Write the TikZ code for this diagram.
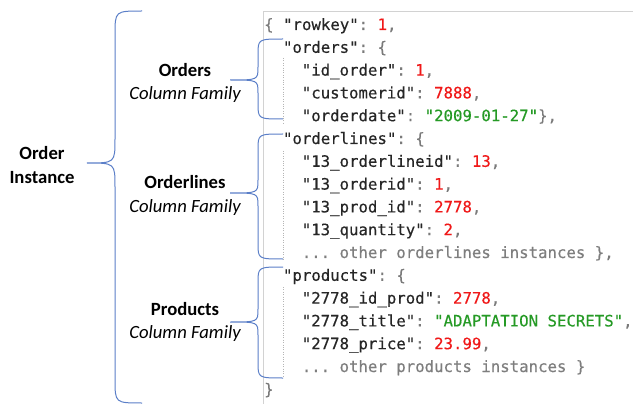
\documentclass[tikz,border=0pt]{standalone}
\usepackage{fontspec}
\newfontfamily\labfont{Carlito}
\newfontfamily\codefont[FakeBold=0.35]{DejaVu Sans Mono}
\definecolor{ckey}{HTML}{262626}
\definecolor{cpun}{HTML}{7A7A7A}
\definecolor{ccom}{HTML}{7E7E7E}
\definecolor{cnum}{HTML}{F01818}
\definecolor{cstr}{HTML}{259A25}
\definecolor{cbrace}{HTML}{5B7FC8}
\definecolor{cbox}{HTML}{D2D2D2}
\definecolor{cguide}{HTML}{B5B5B5}
\newcommand{\Kq}[1]{\textcolor{ckey}{"#1"}}
\newcommand{\Pn}[1]{\textcolor{cpun}{#1}}
\newcommand{\Nm}[1]{\textcolor{cnum}{#1}}
\newcommand{\St}[1]{\textcolor{cstr}{"#1"}}
\newcommand{\Cm}[1]{\textcolor{ccom}{#1}}
% brace: xend, xv, xtip, ytop, ytip, ybot, rend, rtip
\newcommand{\cfbrace}[8]{%
  \draw[bracestyle] (#1,#4) .. controls (#2,#4) .. (#2,{#4+#7})
    -- (#2,{#5-#8}) .. controls (#2,#5) .. (#3,#5)
    .. controls (#2,#5) .. (#2,{#5+#8})
    -- (#2,{#6-#7}) .. controls (#2,#6) .. (#1,#6);}
\begin{document}
\begin{tikzpicture}[x=1pt,y=-1pt,
  bracestyle/.style={draw=cbrace,line width=1pt},
  lbl/.style={inner sep=0pt,font=\labfont\fontsize{18.67}{23}\selectfont,text=black},
  codeline/.style={inner sep=0pt,anchor=base west,font=\codefont\fontsize{15.7}{22.8}\selectfont\frenchspacing},
  guide/.style={draw=cguide,line width=0.8pt,dash pattern=on 0.8pt off 1.6pt},
  boxline/.style={draw=cbox,line width=0.9pt}]
\useasboundingbox (0,0) rectangle (633,404);
\fill[white] (0,0) rectangle (633,404);
% code box
\draw[boxline] (263,404) -- (263,11) -- (633,11);
% labels
\node[lbl,anchor=base] (ordI1) at (42,160) {\bfseries Order};
\node[lbl,anchor=base] (ordI2) at (42,183) {\bfseries Instance};
\node[lbl,anchor=base] (ordT) at (185,77) {\bfseries Orders};
\node[lbl,anchor=base] (ordS) at (185,100) {\itshape Column Family};
\node[lbl,anchor=base] (olT) at (185,189) {\bfseries Orderlines};
\node[lbl,anchor=base] (olS) at (185,212) {\itshape Column Family};
\node[lbl,anchor=base] (prT) at (185,315) {\bfseries Products};
\node[lbl,anchor=base] (prS) at (185,338) {\itshape Column Family};
% braces
\cfbrace{142}{115}{87}{11}{163}{403}{24}{24}
\cfbrace{283}{258}{230}{39}{80}{119}{16}{13}
\cfbrace{283}{258}{230}{134}{193}{259}{16}{13}
\cfbrace{283}{258}{230}{267}{322}{378}{16}{13}
% indent guides
\draw[guide] (283,58) -- (283,124);
\draw[guide] (283,151) -- (283,260);
\draw[guide] (283,287) -- (283,378);
% code lines
\node[codeline] (l1) at (264,30) {\Pn{\{} \Kq{rowkey}\Pn{:} \Nm{1}\Pn{,}};
\node[codeline] (l2) at (282.8,52.8) {\Kq{orders}\Pn{: \{}};
\node[codeline] (l3) at (301.6,75.6) {\Kq{id\_order}\Pn{:} \Nm{1}\Pn{,}};
\node[codeline] (l4) at (301.6,98.4) {\Kq{customerid}\Pn{:} \Nm{7888}\Pn{,}};
\node[codeline] (l5) at (301.6,121.2) {\Kq{orderdate}\Pn{:} \St{2009-01-27}\Pn{\},}};
\node[codeline] (l6) at (282.8,144) {\Kq{orderlines}\Pn{: \{}};
\node[codeline] (l7) at (301.6,166.8) {\Kq{13\_orderlineid}\Pn{:} \Nm{13}\Pn{,}};
\node[codeline] (l8) at (301.6,189.6) {\Kq{13\_orderid}\Pn{:} \Nm{1}\Pn{,}};
\node[codeline] (l9) at (301.6,212.4) {\Kq{13\_prod\_id}\Pn{:} \Nm{2778}\Pn{,}};
\node[codeline] (l10) at (301.6,235.2) {\Kq{13\_quantity}\Pn{:} \Nm{2}\Pn{,}};
\node[codeline] (l11) at (301.6,258) {\Cm{... other orderlines instances \}}\Pn{,}};
\node[codeline] (l12) at (282.8,280.8) {\Kq{products}\Pn{: \{}};
\node[codeline] (l13) at (301.6,303.6) {\Kq{2778\_id\_prod}\Pn{:} \Nm{2778}\Pn{,}};
\node[codeline] (l14) at (301.6,326.4) {\Kq{2778\_title}\Pn{:} \St{ADAPTATION SECRETS}\Pn{,}};
\node[codeline] (l15) at (301.6,349.2) {\Kq{2778\_price}\Pn{:} \Nm{23.99}\Pn{,}};
\node[codeline] (l16) at (301.6,372) {\Cm{... other products instances \}}};
\node[codeline] (l17) at (264,394.8) {\Pn{\}}};
\end{tikzpicture}
\end{document}
